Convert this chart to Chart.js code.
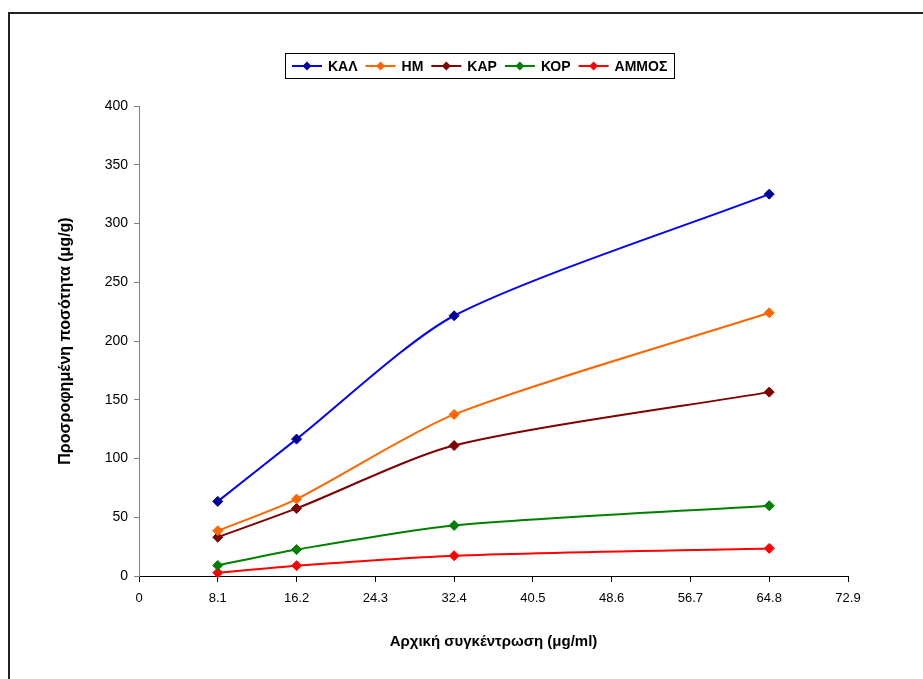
<!DOCTYPE html>
<html>
<head>
<meta charset="utf-8">
<script src="https://cdn.jsdelivr.net/npm/chart.js@4.4.0/dist/chart.umd.min.js"></script>
<style>
    html, body { margin: 0; padding: 0; background: #fff; overflow: hidden; width: 923px; height: 679px; }
    #frame { position: absolute; left: 8px; top: 12px; width: 1000px; height: 800px; border: 2px solid #222; }
    #chart { position: absolute; left: 0; top: 0; }
</style>
</head>
<body>
<div id="frame"></div>
<canvas id="chart" width="923" height="679"></canvas>
<script>
// --- data ---
const concentrations = [8.1, 16.2, 32.4, 64.8];
const xTickValues = [0, 8.1, 16.2, 24.3, 32.4, 40.5, 48.6, 56.7, 64.8, 72.9];

const seriesNames = ['ΚΑΛ', 'ΗΜ', 'ΚΑΡ', 'ΚΟΡ', 'ΑΜΜΟΣ'];
const kalValues = [63.5, 116.5, 221.5, 325];
const hmValues = [38.5, 65.5, 137.5, 224];
const karValues = [33, 57.5, 111, 156.5];
const korValues = [9, 22.5, 43, 59.8];
const ammosValues = [2.8, 8.8, 17.3, 23.5];

const lineColors = ['#0000FF', '#FF6600', '#800000', '#008000', '#FF0000'];
const markerColors = ['#000099', '#FF6600', '#800000', '#008000', '#FF0000'];

const FONT = '"Liberation Sans", Arial, sans-serif';

function toPoints(vals) {
    return vals.map((v, i) => ({ x: concentrations[i], y: v }));
}

const allValues = [kalValues, hmValues, karValues, korValues, ammosValues];

// Excel style legend: boxed, line + diamond marker per series
const boxedLegend = {
    id: 'boxedLegend',
    afterDraw(chart) {
        const ctx = chart.ctx;
        const sets = chart.data.datasets;
        ctx.save();
        ctx.font = 'bold 14px ' + FONT;
        const lineLen = 30, gapText = 6, gapItem = 8, padX = 7;
        let total = padX * 2;
        sets.forEach((ds, i) => {
            total += lineLen + gapText + ctx.measureText(ds.label).width;
            if (i < sets.length - 1) total += gapItem;
        });
        const cx = 480, top = 53, h = 25;
        const left = Math.round(cx - total / 2);
        ctx.strokeStyle = '#000';
        ctx.lineWidth = 1;
        ctx.strokeRect(left + 0.5, top + 0.5, Math.round(total), h);

        let x = left + padX;
        const y = top + h / 2 + 0.5;
        sets.forEach((ds) => {
            ctx.strokeStyle = ds.borderColor;
            ctx.lineWidth = 2;
            ctx.beginPath();
            ctx.moveTo(x, y);
            ctx.lineTo(x + lineLen, y);
            ctx.stroke();
            const mx = x + lineLen / 2, r = 4.5;
            ctx.fillStyle = ds.pointBackgroundColor;
            ctx.beginPath();
            ctx.moveTo(mx, y - r);
            ctx.lineTo(mx + r, y);
            ctx.lineTo(mx, y + r);
            ctx.lineTo(mx - r, y);
            ctx.closePath();
            ctx.fill();
            x += lineLen + gapText;
            ctx.fillStyle = '#000';
            ctx.textBaseline = 'middle';
            ctx.textAlign = 'left';
            ctx.fillText(ds.label, x, y + 1);
            x += ctx.measureText(ds.label).width + gapItem;
        });
        ctx.restore();
    }
};

const ctx = document.getElementById('chart').getContext('2d');

new Chart(ctx, {
    type: 'line',
    data: {
        datasets: seriesNames.map((name, i) => ({
            label: name,
            data: toPoints(allValues[i]),
            borderColor: lineColors[i],
            backgroundColor: lineColors[i],
            pointBackgroundColor: markerColors[i],
            pointBorderColor: markerColors[i],
            pointStyle: 'rectRot',
            pointRadius: 5,
            pointBorderWidth: 1,
            borderWidth: 2,
            tension: 0.25,
            fill: false,
            clip: false
        }))
    },
    options: {
        responsive: false,
        animation: false,
        events: [],
        layout: { padding: { left: 0, top: 106, right: 75, bottom: 0 } },
        plugins: {
            legend: { display: false },
            tooltip: { enabled: false }
        },
        scales: {
            x: {
                type: 'linear',
                min: 0,
                max: 72.9,
                afterBuildTicks: (scale) => {
                    scale.ticks = xTickValues.map(v => ({ value: v }));
                },
                afterFit: (scale) => { scale.height = 103; },
                grid: { display: true, drawOnChartArea: false, drawTicks: true, tickLength: 6, color: '#000' },
                border: { color: '#000', width: 1 },
                ticks: {
                    color: '#000',
                    padding: 9,
                    maxRotation: 0,
                    font: { family: FONT, size: 13 },
                    callback: (v) => {
                        const idx = xTickValues.findIndex(t => Math.abs(t - v) < 1e-6);
                        return idx === 0 ? '0' : xTickValues[idx].toFixed(1);
                    }
                },
                title: {
                    display: true,
                    text: 'Αρχική συγκέντρωση (μg/ml)',
                    color: '#000',
                    font: { family: FONT, size: 15, weight: 'bold' },
                    padding: { top: 0, bottom: 28 }
                }
            },
            y: {
                min: 0,
                max: 400,
                afterFit: (scale) => { scale.width = 139; },
                grid: { display: true, drawOnChartArea: false, drawTicks: true, tickLength: 5, color: '#808080' },
                border: { color: '#808080', width: 1 },
                ticks: {
                    stepSize: 50,
                    color: '#000',
                    padding: 6,
                    font: { family: FONT, size: 14 }
                },
                title: {
                    display: true,
                    text: 'Προσροφημένη ποσότητα (μg/g)',
                    color: '#000',
                    font: { family: FONT, size: 16, weight: 'bold' },
                    padding: { top: 56, bottom: 0 }
                }
            }
        }
    },
    plugins: [boxedLegend]
});
</script>
</body>
</html>
